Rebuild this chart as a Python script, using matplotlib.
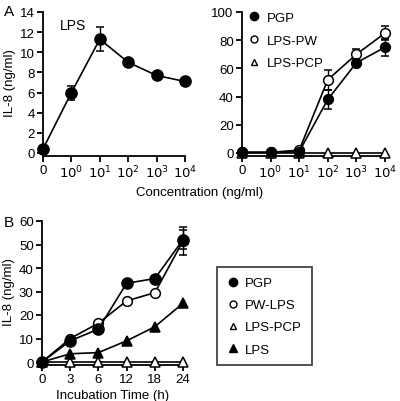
#!/usr/bin/env python3
"""IL-8 release: dose response (A) and time course (B)."""
import matplotlib
matplotlib.use("Agg")
import matplotlib.pyplot as plt
from matplotlib.lines import Line2D

plt.rcParams["font.family"] = ["Liberation Sans", "DejaVu Sans"]
plt.rcParams["font.size"] = 9.5

# ---------------------------------------------------------------------------
# Data
# ---------------------------------------------------------------------------
conc_labels = ["0", "$10^0$", "$10^1$", "$10^2$", "$10^3$", "$10^4$"]
conc_pos = [0, 1, 2, 3, 4, 5]

lps_a = [0.4, 6.0, 11.3, 9.0, 7.7, 7.1]
lps_a_err = [0.0, 0.7, 1.2, 0.2, 0.3, 0.2]

pgp_a = [0.5, 0.5, 1.0, 38.0, 64.0, 75.0]
pgp_a_err = [0.0, 0.0, 0.0, 7.0, 3.0, 6.0]
lpspw_a = [0.5, 0.5, 2.0, 52.0, 70.0, 85.0]
lpspw_a_err = [0.0, 0.0, 0.0, 7.0, 4.0, 5.0]
lpspcp_a = [0.0, 0.0, 0.0, 0.0, 0.0, 0.0]

time_labels = ["0", "3", "6", "12", "18", "24"]
time_pos = [0, 1, 2, 3, 4, 5]
pgp_b = [0.0, 9.0, 14.0, 33.5, 35.5, 52.0]
pgp_b_err = [0.0, 0.0, 0.0, 0.0, 0.0, 4.0]
pwlps_b = [0.0, 10.0, 16.5, 26.0, 29.5, 51.5]
pwlps_b_err = [0.0, 0.0, 0.0, 0.0, 0.0, 6.0]
lpspcp_b = [0.0, 0.0, 0.0, 0.0, 0.0, 0.0]
lps_b = [0.0, 3.5, 4.0, 9.0, 15.0, 25.0]

W, H = 400, 402


def ax_at(fig, x0, x1, y_top, y_bot):
    """Axes from pixel coordinates (origin top-left)."""
    return fig.add_axes([x0 / W, 1 - y_bot / H, (x1 - x0) / W, (y_bot - y_top) / H])


def style(ax):
    for s in ("top", "right"):
        ax.spines[s].set_visible(False)
    ax.spines["left"].set_linewidth(1.3)
    ax.spines["bottom"].set_linewidth(1.3)
    ax.spines["bottom"].set_position(("outward", 2))
    ax.tick_params(direction="out", length=4, width=1.3, pad=2)


def series(ax, x, y, err=None, marker="o", filled=True, ms=7):
    kw = dict(color="black", marker=marker, ms=ms, lw=1.2, clip_on=False,
              mfc="black" if filled else "white", mec="black", mew=1.1, zorder=3)
    if err is not None:
        ax.errorbar(x, y, yerr=err, capsize=3, elinewidth=1.0, capthick=1.0, **kw)
    else:
        ax.plot(x, y, **kw)


fig = plt.figure(figsize=(W / 100, H / 100), dpi=100)

# Panel A left
ax1 = ax_at(fig, 43, 185, 13, 154)
style(ax1)
series(ax1, conc_pos, lps_a, lps_a_err, ms=8)
ax1.set_xlim(0, 5)
ax1.set_ylim(0, 14)
ax1.set_yticks(range(0, 15, 2))
ax1.set_xticks(conc_pos)
ax1.set_xticklabels(conc_labels)
ax1.set_ylabel("IL-8 (ng/ml)", labelpad=3)
ax1.text(0.6, 12.7, "LPS", fontsize=10, va="center")

# Panel A right
ax2 = ax_at(fig, 242, 385, 13, 154)
style(ax2)
series(ax2, conc_pos, lpspcp_a, marker="^", filled=False, ms=6.5)
series(ax2, conc_pos, lpspw_a, lpspw_a_err, filled=False, ms=7)
series(ax2, conc_pos, pgp_a, pgp_a_err, ms=7)
ax2.set_xlim(0, 5)
ax2.set_ylim(0, 100)
ax2.set_yticks(range(0, 101, 20))
ax2.set_xticks(conc_pos)
ax2.set_xticklabels(conc_labels)
h_a = [Line2D([], [], ls="", marker="o", color="black", ms=6),
       Line2D([], [], ls="", marker="o", mfc="white", mec="black", ms=5),
       Line2D([], [], ls="", marker="^", mfc="white", mec="black", ms=5)]
ax2.legend(h_a, ["PGP", "LPS-PW", "LPS-PCP"], loc="upper left",
           bbox_to_anchor=(0.0, 1.04), frameon=False, handletextpad=0.5,
           labelspacing=0.8, handlelength=1.0, borderaxespad=0, fontsize=9.5)

fig.text(200 / W, 1 - 193 / H, "Concentration (ng/ml)", ha="center", va="center")
fig.text(4 / W, 1 - 12 / H, "A", fontsize=11, va="center")
fig.text(4 / W, 1 - 223 / H, "B", fontsize=11, va="center")

# Panel B
ax3 = ax_at(fig, 42, 183, 222, 363)
style(ax3)
series(ax3, time_pos, lpspcp_b, marker="^", filled=False, ms=6.5)
series(ax3, time_pos, lps_b, marker="^", ms=7)
series(ax3, time_pos, pwlps_b, pwlps_b_err, filled=False, ms=7)
series(ax3, time_pos, pgp_b, pgp_b_err, ms=8)
ax3.set_xlim(0, 5)
ax3.set_ylim(0, 60)
ax3.set_yticks(range(0, 61, 10))
ax3.set_xticks(time_pos)
ax3.set_xticklabels(time_labels)
ax3.set_ylabel("IL-8 (ng/ml)", labelpad=3)
ax3.set_xlabel("Incubation Time (h)", labelpad=3)

h_b = [Line2D([], [], ls="", marker="o", color="black", ms=6),
       Line2D([], [], ls="", marker="o", mfc="white", mec="black", ms=5),
       Line2D([], [], ls="", marker="^", mfc="white", mec="black", ms=5),
       Line2D([], [], ls="", marker="^", color="black", ms=6)]
leg = fig.legend(h_b, ["PGP", "PW-LPS", "LPS-PCP", "LPS"], loc="upper left",
                 bbox_to_anchor=(217 / W, 1 - 268 / H), frameon=True,
                 fancybox=False, edgecolor="black", handletextpad=0.5,
                 labelspacing=0.75, handlelength=0.9, borderpad=0.75,
                 borderaxespad=0, fontsize=9.5)
leg.get_frame().set_linewidth(1.2)

fig.savefig("out.png", dpi=100)
